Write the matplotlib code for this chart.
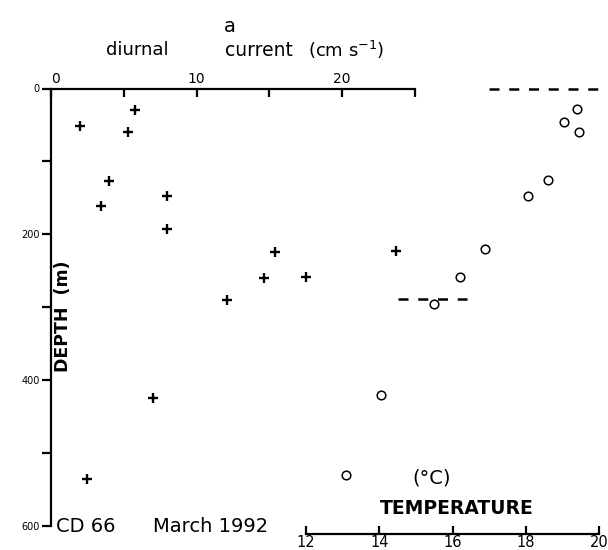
import matplotlib
matplotlib.use('Agg')
import matplotlib.pyplot as plt

plt.rcParams['font.family'] = ['DejaVu Sans']

# diurnal current speed (cm/s) vs depth (m)
cur_speed = [2.0, 5.8, 5.3, 4.0, 3.4, 7.95, 7.97, 12.1, 14.6, 15.4, 17.5, 23.7, 7.0, 2.5]
cur_depth = [51, 29, 60, 127, 161, 147, 193, 290, 260, 224, 258, 223, 425, 535]

# temperature (deg C) vs depth (m)
temp_val = [19.4, 19.05, 19.45, 18.6, 18.05, 16.9, 16.2, 15.5, 14.05, 13.1]
temp_depth = [28, 46, 60, 125, 147, 220, 259, 296, 420, 530]

# dashed reference levels (temperature span, depth)
dash_top_T = [17.0, 20.0]
dash_top_depth = 0
dash_mid_T = [14.5, 16.4]
dash_mid_depth = 288

cur_ticks = [0, 5, 10, 15, 20, 25]
cur_ticklabels = ['0', '', '10', '', '20', '']
depth_ticks = [0, 100, 200, 300, 400, 500, 600]
depth_ticklabels = ['0', '', '200', '', '400', '', '600']
temp_ticks = [12, 14, 16, 18, 20]

W, H = 608, 550
fig = plt.figure(figsize=(W / 100, H / 100), dpi=100)


def fx(x):
    return x / W


def fy(y):
    return 1 - y / H


# main axes: current (top) vs depth (left)
ax = fig.add_axes([fx(51), fy(526), fx(415) - fx(51), fy(88.5) - fy(526)])
ax.set_xlim(0, 25)
ax.set_ylim(600, 0)
for s in ['right', 'bottom']:
    ax.spines[s].set_visible(False)
for s in ['top', 'left']:
    ax.spines[s].set_linewidth(1.6)
ax.xaxis.set_ticks_position('top')
ax.set_xticks(cur_ticks)
ax.set_xticklabels(cur_ticklabels)
ax.tick_params(axis='x', direction='in', length=6, width=1.6, pad=2, labelsize=10)
ax.get_xticklabels()[0].set_horizontalalignment('left')
ax.set_yticks(depth_ticks)
ax.set_yticklabels(depth_ticklabels)
ax.tick_params(axis='y', direction='out', length=6.5, width=1.6, pad=1.5, labelsize=7)
ax.patch.set_visible(False)

ax.plot(cur_speed, cur_depth, linestyle='none', marker='+', color='black',
        markersize=6.8, markeredgewidth=1.7, clip_on=False)

# temperature axes, sharing depth scale
ax2 = fig.add_axes([fx(306), fy(526), fx(599) - fx(306), fy(88.5) - fy(526)])
ax2.set_xlim(12, 20)
ax2.set_ylim(600, 0)
ax2.patch.set_visible(False)
for s in ['right', 'top', 'left']:
    ax2.spines[s].set_visible(False)
ax2.spines['bottom'].set_position(('outward', 5.8))
ax2.spines['bottom'].set_linewidth(1.6)
ax2.set_yticks([])
ax2.set_xticks(temp_ticks)
ax2.tick_params(axis='x', direction='in', length=6, width=1.6, pad=0.5, labelsize=10.5)

ax2.plot(temp_val, temp_depth, linestyle='none', marker='o', color='black',
         markerfacecolor='none', markersize=6.2, markeredgewidth=1.1, clip_on=False)
ax2.plot(dash_top_T, [dash_top_depth, dash_top_depth], color='black', lw=1.8,
         linestyle=(0, (4, 3.9)), dash_capstyle='butt', clip_on=False)
ax2.plot(dash_mid_T, [dash_mid_depth, dash_mid_depth], color='black', lw=1.8,
         linestyle=(0, (4, 3.9)), dash_capstyle='butt', clip_on=False)

# labels
fig.text(fx(230), fy(27), 'a', ha='center', va='center', fontsize=14)
fig.text(fx(137), fy(50), 'diurnal', ha='center', va='center', fontsize=13)
fig.text(fx(259), fy(50), 'current', ha='center', va='center', fontsize=13.5)
fig.text(fx(346), fy(50), '(cm s$^{-1}$)', ha='center', va='center', fontsize=13)
fig.text(fx(63), fy(316), 'DEPTH  (m)', rotation=90, ha='center', va='center',
         fontsize=12.5, fontweight='bold')
fig.text(fx(56), fy(526), 'CD 66', ha='left', va='center', fontsize=14)
fig.text(fx(153), fy(526), 'March 1992', ha='left', va='center', fontsize=14)
fig.text(fx(432), fy(478), '(°C)', ha='center', va='center', fontsize=14)
fig.text(fx(457), fy(508), 'TEMPERATURE', ha='center', va='center', fontsize=13.5,
         fontweight='bold')

plt.savefig('out.png', dpi=100)
